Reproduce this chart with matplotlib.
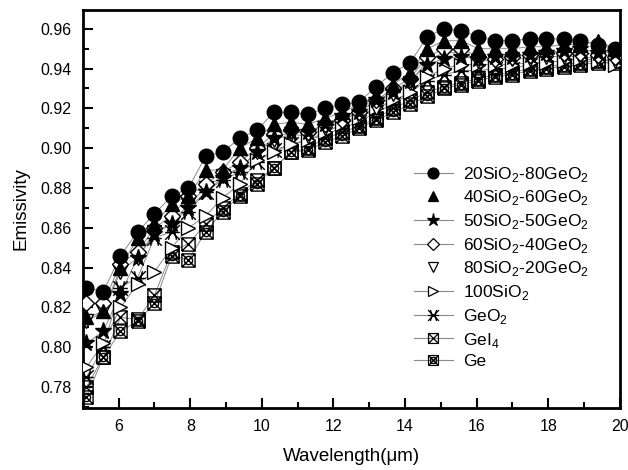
"""Emissivity vs wavelength for SiO2-GeO2 coatings, redrawn from the figure."""

import matplotlib
matplotlib.use("Agg")
import matplotlib.pyplot as plt
from matplotlib.path import Path
from matplotlib.ticker import MultipleLocator

plt.rcParams["font.family"] = ["Liberation Sans", "DejaVu Sans"]
plt.rcParams["mathtext.fontset"] = "custom"
plt.rcParams["mathtext.rm"] = "Liberation Sans"

# ── Data ─────────────────────────────────────────────────────────────────────

wavelength = [5.10, 5.57, 6.05, 6.53, 7.00, 7.48, 7.95, 8.43, 8.90, 9.38,
              9.86, 10.33, 10.81, 11.29, 11.76, 12.24, 12.71, 13.19, 13.67, 14.14,
              14.62, 15.09, 15.57, 16.05, 16.52, 17.00, 17.48, 17.95, 18.43, 18.90,
              19.38, 19.86]

si20_ge80 = [0.830, 0.828, 0.846, 0.858, 0.867, 0.876, 0.880, 0.896, 0.898, 0.905,
             0.909, 0.918, 0.918, 0.917, 0.920, 0.922, 0.923, 0.931, 0.938, 0.943,
             0.956, 0.960, 0.959, 0.956, 0.954, 0.954, 0.955, 0.955, 0.955, 0.954,
             0.952, 0.950]
si40_ge60 = [0.815, 0.818, 0.840, 0.855, 0.862, 0.872, 0.876, 0.889, 0.889, 0.900,
             0.905, 0.912, 0.913, 0.912, 0.915, 0.918, 0.922, 0.926, 0.932, 0.938,
             0.950, 0.954, 0.954, 0.950, 0.950, 0.950, 0.951, 0.951, 0.952, 0.952,
             0.954, 0.950]
si50_ge50 = [0.802, 0.808, 0.827, 0.845, 0.857, 0.862, 0.870, 0.878, 0.885, 0.890,
             0.898, 0.905, 0.908, 0.908, 0.912, 0.916, 0.918, 0.924, 0.928, 0.934,
             0.942, 0.945, 0.946, 0.945, 0.946, 0.946, 0.947, 0.948, 0.949, 0.950,
             0.948, 0.948]
si60_ge40 = [0.822, 0.822, 0.842, 0.848, 0.860, 0.866, 0.876, 0.882, 0.888, 0.893,
             0.900, 0.907, 0.909, 0.908, 0.912, 0.914, 0.918, 0.924, 0.930, 0.935,
             0.946, 0.950, 0.950, 0.946, 0.945, 0.946, 0.947, 0.948, 0.948, 0.948,
             0.947, 0.946]
si80_ge20 = [0.813, 0.818, 0.838, 0.845, 0.858, 0.862, 0.872, 0.880, 0.886, 0.890,
             0.898, 0.904, 0.907, 0.906, 0.910, 0.913, 0.916, 0.920, 0.927, 0.933,
             0.944, 0.948, 0.948, 0.944, 0.944, 0.945, 0.945, 0.946, 0.946, 0.946,
             0.945, 0.944]
si100 = [0.790, 0.802, 0.820, 0.832, 0.838, 0.850, 0.860, 0.866, 0.875, 0.882,
         0.894, 0.898, 0.902, 0.904, 0.908, 0.912, 0.915, 0.920, 0.924, 0.928,
         0.936, 0.940, 0.942, 0.942, 0.942, 0.942, 0.943, 0.943, 0.944, 0.945,
         0.944, 0.942]
geo2 = [0.785, 0.800, 0.830, 0.835, 0.855, 0.858, 0.868, 0.878, 0.884, 0.888,
        0.893, 0.899, 0.902, 0.904, 0.907, 0.910, 0.913, 0.918, 0.922, 0.928,
        0.934, 0.937, 0.939, 0.939, 0.940, 0.940, 0.942, 0.943, 0.944, 0.945,
        0.944, 0.944]
gei4 = [0.780, 0.795, 0.815, 0.814, 0.826, 0.848, 0.852, 0.862, 0.870, 0.877,
        0.884, 0.890, 0.898, 0.900, 0.905, 0.908, 0.911, 0.915, 0.920, 0.924,
        0.928, 0.931, 0.933, 0.935, 0.937, 0.938, 0.940, 0.941, 0.942, 0.943,
        0.944, 0.944]
ge = [0.775, 0.795, 0.808, 0.813, 0.822, 0.846, 0.844, 0.858, 0.868, 0.876,
      0.882, 0.890, 0.898, 0.899, 0.903, 0.906, 0.910, 0.914, 0.918, 0.922,
      0.926, 0.930, 0.932, 0.934, 0.936, 0.937, 0.939, 0.940, 0.941, 0.942,
      0.943, 0.943]

labels = [
    r"20SiO$_2$-80GeO$_2$", r"40SiO$_2$-60GeO$_2$", r"50SiO$_2$-50GeO$_2$",
    r"60SiO$_2$-40GeO$_2$", r"80SiO$_2$-20GeO$_2$", r"100SiO$_2$",
    r"GeO$_2$", r"GeI$_4$", "Ge",
]

# ── Custom Origin-style markers ──────────────────────────────────────────────

def _compound(*segments):
    verts, codes = [], []
    for seg in segments:
        verts += seg
        codes += [Path.MOVETO] + [Path.LINETO] * (len(seg) - 1)
    return Path(verts, codes)

_sq = [(-1, -1), (1, -1), (1, 1), (-1, 1), (-1, -1)]
_d1 = [(-1, -1), (1, 1)]
_d2 = [(-1, 1), (1, -1)]
_circ = Path.circle((0, 0), 0.62)

GEO2_MARKER = _compound(_d1, _d2, [(-0.55, -1), (-0.3, 0), (-0.55, 1)],
                        [(0.55, -1), (0.3, 0), (0.55, 1)], [(-1, 0), (1, 0)])
GEI4_MARKER = _compound(_sq, _d1, _d2)
GE_MARKER = Path(list(GEI4_MARKER.vertices) + list(_circ.vertices),
                 list(GEI4_MARKER.codes) + list(_circ.codes))

# (values, marker, face, size, line in legend)
series = [
    (si20_ge80, "o", "black", 10.5, True),
    (si40_ge60, "^", "black", 10.5, False),
    (si50_ge50, "*", "black", 12.5, True),
    (si60_ge40, "D", "white", 8.5, True),
    (si80_ge20, "v", "white", 10.5, False),
    (si100, ">", "white", 10.5, True),
    (geo2, GEO2_MARKER, "none", 10.5, True),
    (gei4, GEI4_MARKER, "none", 9.5, True),
    (ge, GE_MARKER, "none", 9.5, True),
]

fig = plt.figure(figsize=(6.28, 4.70), dpi=100)
ax = fig.add_axes([0.132, 0.132, 0.855, 0.847])

# thin grey traces first, then markers on top (first series drawn last)
for vals, *_ in series:
    ax.plot(wavelength, vals, color="#8a8a8a", lw=0.7, zorder=1)

handles = []
for i, (vals, mk, face, ms, legline) in reversed(list(enumerate(series))):
    ax.plot(wavelength, vals, ls="none", marker=mk, ms=ms,
            mfc=face, mec="black", mew=1.0, zorder=3 + (len(series) - i))
    h, = ax.plot([], [], color="#8a8a8a" if legline else "none", lw=0.8,
                 marker=mk, ms=ms * 0.75, mfc=face, mec="black", mew=0.9,
                 label=labels[i])
    handles.insert(0, h)

ax.set_xlim(5, 20)
ax.set_ylim(0.7695, 0.9695)
ax.xaxis.set_major_locator(MultipleLocator(2))
ax.xaxis.set_minor_locator(MultipleLocator(1))
ax.yaxis.set_major_locator(MultipleLocator(0.02))
ax.yaxis.set_minor_locator(MultipleLocator(0.01))
ax.yaxis.set_major_formatter(plt.FormatStrFormatter("%.2f"))
ax.tick_params(which="both", direction="in", top=False, right=False,
               labelsize=11.5, width=1.5)
ax.tick_params(which="major", length=7, pad=8)
ax.tick_params(which="minor", length=4)
for sp in ax.spines.values():
    sp.set_linewidth(2)

ax.set_xlabel("Wavelength(\u03bcm)", fontsize=13.5, labelpad=10)
ax.set_ylabel("Emissivity", fontsize=13.5, labelpad=8)

ax.legend(handles=handles, loc="center left", bbox_to_anchor=(0.616, 0.354),
          frameon=False, fontsize=12.5, handlelength=2.25, labelspacing=0.27,
          handletextpad=0.58, borderpad=0, borderaxespad=0)

fig.savefig("out.png", dpi=100)
